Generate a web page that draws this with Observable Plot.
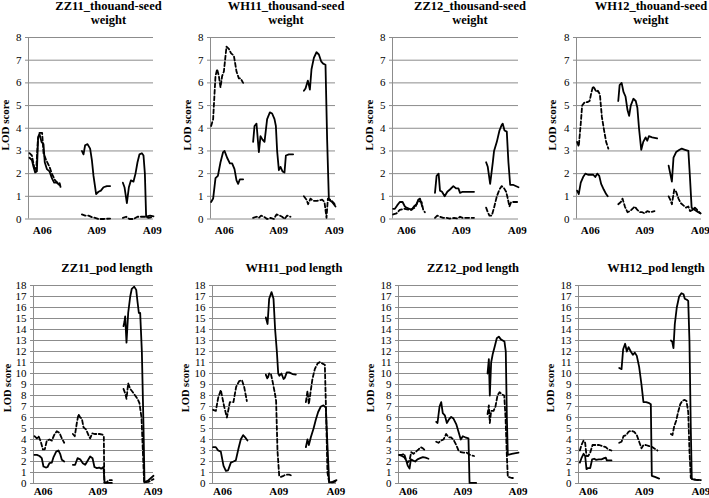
<!DOCTYPE html>
<html><head><meta charset="utf-8">
<script src="https://cdn.jsdelivr.net/npm/d3@7"></script>
<script src="https://cdn.jsdelivr.net/npm/@observablehq/plot@0.6"></script>
<style>
body{margin:0;background:#fff;}
#chart{position:relative;width:709px;height:498px;overflow:hidden;font-family:"Liberation Serif","Times New Roman",serif;background:#fff;}
.panel{position:absolute;}
.panel svg, .panel svg text{font-family:"Liberation Serif","Times New Roman",serif !important;}
.title{position:absolute;width:220px;text-align:center;font-weight:bold;font-size:12.5px;line-height:13.5px;white-space:nowrap;color:#000;}
.ylab{position:absolute;font-weight:bold;font-size:11px;white-space:nowrap;color:#000;transform:translate(-50%,-50%) rotate(-90deg);}
.panel svg g[aria-label^="x-axis"] text{font-weight:bold;}
.panel svg g[aria-label^="y-axis"] line,.panel svg g[aria-label^="y-axis"] path{stroke:#8c8c8c;}
</style></head><body><div id="chart"></div>
<script>
// ---------- labels ----------
const xTickLabels = ["A06", "A09", "A09"];
const topTitles = [["ZZ11_thouand-seed", "weight"], ["WH11_thousand-seed", "weight"], ["ZZ12_thousand-seed", "weight"], ["WH12_thouand-seed", "weight"]];
const bottomTitles = ["ZZ11_pod length", "WH11_pod length", "ZZ12_pod length", "WH12_pod length"];
const yLabel = "LOD score";

// ---------- data: [position, LOD] per linkage segment ----------
// ZZ11 thousand-seed weight
const zz11_tsw_solid = [
 [[0.8,2.7],[2.7,2.6],[4,2.3],[5.3,2.05],[6.7,2.1],[7.7,3.6],[8.8,3.75],[10.4,3.4],[12,3.3],[13,2.5],[14.7,2.2],[16.8,2.1],[18.7,1.8],[20.5,1.6],[22.7,1.6],[24.8,1.5]],
 [[42.7,3.0],[44,2.85],[45.3,3.25],[47.2,3.3],[49.3,3.1],[50.7,2.6],[52,1.9],[54.1,1.1],[56,1.2],[57.9,1.25],[60,1.4],[62.7,1.45],[65.3,1.45]],
 [[75.5,1.6],[76.8,1.4],[78.7,0.7],[80.3,1.4],[81.9,1.7],[84,1.65],[85.6,2.0],[87.2,2.5],[88.8,2.85],[90.7,2.9],[92,2.8],[93.1,2.0],[94.1,0.1],[97.3,0.15],[100,0.12]]
];
const zz11_tsw_dashed = [
 [[0.8,2.9],[2.7,2.8],[4.5,2.3],[6.1,2.1],[7.5,3.5],[8.8,3.8],[10.9,3.8],[12,2.9],[14.1,2.6],[16.8,2.3],[18.7,2.0],[21.3,1.7],[23.2,1.6],[24.8,1.6],[25.9,1.35]],
 [[42.7,0.2],[45.3,0.15],[48,0.15],[50.7,0.08],[53.3,0.05],[56,0.0],[60,0.0],[65.3,0.02]],
 [[75.5,0.05],[78.1,0.1],[80.8,0.0],[84,0.0],[87.2,0.1],[90.7,0.1],[93.3,0.1],[96,0.05],[100,0.1]]
];
// WH11 thousand-seed weight
const wh11_tsw_solid = [
 [[0.5,0.75],[2.1,0.9],[4,1.8],[5.9,1.9],[8,2.5],[10.1,2.95],[11.2,3.0],[13.3,2.7],[15.5,2.45],[17.3,2.45],[19.2,2.2],[20.8,1.7],[22.1,1.55],[23.5,1.75],[26.1,1.75]],
 [[34.1,3.4],[35.2,4.1],[36.8,4.2],[38.7,2.95],[40,3.65],[41.6,3.5],[43.2,3.4],[45.3,4.4],[47.5,4.7],[49.3,4.65],[51.2,4.4],[52.3,4.1],[53.3,3.0],[54.7,2.15],[56,2.3],[57.6,2.1],[59.2,2.05],[60.3,2.8],[62.7,2.85],[66.1,2.85]],
 [[74.7,5.65],[76,5.75],[77.9,6.1],[79.5,5.7],[80.8,6.6],[82.7,7.1],[84.8,7.35],[86.7,7.25],[88.5,6.95],[90.1,6.85],[92,6.8],[93.3,3.5],[94.7,0.85],[97.3,0.75],[100,0.55]]
];
const wh11_tsw_dashed = [
 [[0.5,4.1],[2.1,4.4],[4,6.3],[5.3,6.6],[6.7,6.3],[8,5.8],[9.3,6.3],[10.7,6.5],[12.8,7.6],[14.7,7.5],[16.5,7.3],[18.7,7.2],[20.8,6.5],[22.7,6.2],[24,6.2],[26.1,6.0]],
 [[34.1,0.05],[36.8,0.1],[38.7,0.05],[40.5,0.15],[42.7,0.1],[45.3,0.0],[48,0.05],[50.7,0.0],[52.8,0.2],[55.5,0.15],[57.3,0.1],[59.2,0.0],[61.3,0.15],[64,0.1]],
 [[74.7,1.0],[76.8,0.85],[78.1,0.65],[80,0.9],[82.1,0.8],[85.3,0.8],[89.3,0.85],[91.2,0.75],[92.8,0.05],[93.9,0.9],[96,0.85],[98.7,0.7],[100,0.6]]
];
// ZZ12 thousand-seed weight
const zz12_tsw_solid = [
 [[0.5,0.45],[1.9,0.45],[3.7,0.6],[5.8,0.75],[8,0.75],[9.8,0.55],[11.1,0.5],[13.3,0.45],[15.1,0.4],[17,0.55],[19.1,0.65],[20.4,0.85],[21.8,0.9],[23.6,0.55]],
 [[33.7,1.15],[35,1.9],[36.6,2.0],[37.7,1.25],[39.3,1.2],[41.4,1.0],[43.5,1.2],[45.6,1.3],[48.3,1.45],[50.4,1.35],[52.3,1.35],[53.6,1.15],[55.7,1.2],[58.9,1.2],[64.7,1.2]],
 [[74.3,2.5],[75.6,2.3],[77.5,1.55],[79.6,2.5],[80.6,3.0],[82.8,3.4],[84.9,3.9],[86.7,4.15],[87.5,4.2],[88.9,3.9],[90.7,3.85],[92,2.5],[93.4,1.5],[96,1.5],[100,1.4]]
];
const zz12_tsw_dashed = [
 [[0.5,0.2],[3.2,0.25],[5.8,0.4],[9.8,0.45],[13.8,0.4],[17.8,0.5],[20.4,0.8],[23.1,0.75],[24.4,0.4],[25.7,0.3]],
 [[33.7,0.05],[35.5,0.15],[37.7,0.1],[40.3,0.05],[43,0.05],[45.6,0.02],[48.8,0.05],[51.5,0.02],[53.6,0.1],[55.7,0.05],[58.9,0.05],[64.7,0.05]],
 [[74.3,0.5],[75.6,0.3],[76.9,0.15],[78.8,0.15],[80.6,0.5],[82.8,1.0],[84.9,1.3],[86.7,1.45],[88.6,1.35],[90.2,1.2],[91.5,0.9],[92.8,0.55],[94.2,0.75],[96.6,0.75],[100,0.75]]
];
// WH12 thousand-seed weight
const wh12_tsw_solid = [
 [[0.5,1.25],[1.8,1.1],[3.4,1.6],[5.3,1.85],[7.1,2.0],[9.2,1.95],[11.3,1.95],[13.4,1.95],[15,1.85],[16.6,2.0],[18.2,1.9],[19.7,1.55],[21.8,1.3],[23.7,1.1],[25,1.0]],
 [[33.4,5.2],[34.5,5.9],[36.1,6.0],[37.6,5.6],[39.2,5.4],[40.8,4.8],[42.1,4.55],[43.4,5.0],[45.5,5.3],[47.4,5.2],[48.7,4.9],[50,4.0],[51.8,3.05],[53.4,3.4],[55.3,3.6],[56.6,3.45],[57.9,3.65],[60.5,3.6],[64.5,3.55]],
 [[73.7,2.35],[75,2.0],[76.3,1.65],[77.6,2.7],[79.7,2.95],[82.4,3.05],[84.2,3.1],[86.8,3.05],[89.5,3.0],[90.8,1.8],[92.1,0.5],[94.7,0.4],[97.4,0.3],[99.2,0.25]]
];
const wh12_tsw_dashed = [
 [[0.5,3.4],[1.8,3.2],[3.4,4.2],[4.5,5.0],[6.6,5.15],[8.7,5.15],[10.5,5.2],[11.8,5.55],[13.2,5.85],[14.5,5.75],[15.8,5.6],[17.1,5.65],[18.7,5.5],[20.3,4.5],[22.4,3.8],[23.7,3.4],[25.5,3.1]],
 [[33.4,0.65],[35.5,0.75],[36.8,0.9],[38.7,0.55],[40.8,0.3],[42.9,0.35],[44.7,0.45],[46.6,0.55],[48.7,0.4],[50.8,0.3],[52.6,0.3],[54.5,0.25],[56.6,0.35],[59.2,0.3],[62.4,0.35]],
 [[73.7,1.0],[75,0.85],[76.3,0.65],[78.2,1.3],[79.7,1.2],[81.6,0.9],[83.4,0.7],[85.5,0.6],[87.6,0.5],[89.5,0.55],[90.8,0.35],[92.9,0.4],[94.7,0.5],[97.4,0.35],[99.2,0.25]]
];
// ZZ11 pod length
const zz11_pod_solid = [
 [[0.8,2.6],[2.8,2.6],[5,2.5],[6.9,2.3],[8.3,1.55],[10.3,1.45],[11.7,1.5],[13.3,1.85],[15.3,1.9],[16.7,2.4],[18.9,2.9],[20.8,3.0],[22.2,2.7],[23.6,2.15],[25.6,2.0]],
 [[32.8,1.7],[34.7,1.7],[36.7,2.3],[38.9,2.2],[41.1,1.85],[43.1,1.7],[45,2.05],[47.2,2.45],[49.2,2.3],[50.8,1.5],[52.8,1.4],[54.7,1.45],[56.4,1.35],[58.3,1.5],[59.3,0.05],[65.3,0.05]],
 [[75,14.3],[75.8,14.7],[76.4,15.2],[77.5,12.8],[78.9,15.5],[80.6,17.0],[81.9,17.7],[83.9,17.9],[85.6,17.6],[86.7,16.5],[87.8,15.5],[88.9,15.5],[90.3,12.0],[91.7,5.0],[92.5,0.1],[95.8,0.3],[100,0.7]]
];
const zz11_pod_dashed = [
 [[0.8,4.3],[2.8,4.1],[4.2,4.3],[6.1,3.8],[7.8,3.1],[9.4,3.1],[11.1,3.9],[13.3,4.0],[15.3,3.9],[17.2,4.4],[19.4,4.75],[21.7,4.6],[23.6,4.1],[25.6,3.7]],
 [[32.8,4.5],[34.4,4.3],[36.1,5.5],[37.5,6.3],[38.9,6.0],[40.3,5.9],[41.7,5.1],[43.9,4.9],[45.8,4.4],[47.2,4.1],[48.9,4.55],[50.8,4.5],[52.8,4.5],[55,4.5],[57.5,4.45],[58.6,4.3],[59,0.1],[61,0.1],[62.5,0.3],[65.3,0.3]],
 [[75,8.6],[76.4,8.2],[77.5,7.7],[78.9,9.1],[80.6,8.6],[82.8,8.3],[84.7,8.0],[86.7,7.7],[88.3,7.3],[90,6.0],[91.1,3.0],[92.2,0.1],[95.8,0.15],[100,0.4]]
];
// WH11 pod length
const wh11_pod_solid = [
 [[0.5,3.3],[2.7,3.3],[4.6,3.0],[6.7,2.9],[8.9,1.6],[10.8,1.15],[12.6,1.2],[14.8,1.9],[16.9,2.0],[18.8,2.1],[21,3.2],[22.8,4.0],[24.7,4.4],[26.3,4.2],[28.2,3.9]],
 [[43,15.1],[44.4,14.5],[45.7,16.8],[47.6,17.4],[49.2,16.8],[50.5,14.0],[51.9,12.0],[53,10.0],[54,9.8],[55.6,10.0],[57.3,9.5],[58.3,9.6],[59.9,10.1],[61.8,10.1],[64.5,9.95],[67.2,9.9]],
 [[75.3,3.3],[76.6,4.0],[77.7,3.5],[79.3,4.2],[81.5,5.0],[83.3,5.8],[85.2,6.5],[87.4,7.0],[89.5,7.1],[91.4,6.9],[92.7,3.5],[94.1,0.1],[96.8,0.15],[100,0.3]]
];
const wh11_pod_dashed = [
 [[0.5,6.7],[2.7,6.6],[4.6,7.8],[6.7,8.5],[9.4,7.0],[11.6,6.0],[14,7.4],[16.9,7.4],[19.1,8.8],[21.5,9.3],[23.7,9.4],[25.5,8.8],[27.7,7.5]],
 [[43,9.9],[44.4,9.5],[45.7,10.0],[47,10.0],[48.4,9.3],[50.3,8.2],[51.3,7.5],[52.4,3.0],[53.8,0.7],[55.1,0.6],[57.3,0.7],[59.1,0.8],[61.8,0.8],[64.5,0.7]],
 [[75.3,7.4],[76.6,8.4],[77.7,7.2],[79.3,8.5],[80.6,9.5],[82.5,10.4],[84.7,10.9],[86.8,11.05],[88.7,10.9],[90.6,10.8],[91.7,6.0],[92.7,1.0],[94.1,0.1],[96.8,0.1],[100,0.2]]
];
// ZZ12 pod length
const zz12_pod_solid = [
 [[0.6,2.6],[2.8,2.5],[4.7,2.4],[6.4,2.1],[7.8,1.6],[9.2,1.35],[10.3,2.2],[11.9,2.1],[13.9,2.0],[15.8,2.2],[18.1,2.3],[20.3,2.4],[22.5,2.35],[25,2.25]],
 [[31.4,5.6],[32.5,5.5],[34.2,7.0],[35.6,7.4],[36.9,6.4],[38.6,6.2],[40.3,5.5],[41.9,5.8],[43.9,6.05],[45.8,5.9],[48.1,5.4],[50,4.7],[51.9,4.0],[53.6,4.3],[55.6,4.2],[58.3,4.1],[59.2,0.05],[64.7,0.05]],
 [[74.2,10.0],[75.3,11.3],[76.1,8.0],[77.2,11.0],[78.6,11.8],[80.3,12.5],[81.9,13.2],[83.6,13.35],[85.3,13.1],[86.9,13.0],[88.3,12.9],[89.4,12.0],[90.3,6.0],[91.1,2.6],[94.4,2.7],[100,2.8]]
];
const zz12_pod_dashed = [
 [[0.6,2.6],[2.8,2.6],[4.7,2.7],[5.8,2.3],[7.5,1.9],[9.2,2.1],[10.6,2.85],[12.5,2.7],[14.7,2.9],[16.7,3.1],[18.6,3.3],[20.3,3.2],[22.2,3.0]],
 [[31.4,3.8],[33.3,3.7],[35.3,3.9],[37.5,4.0],[39.7,4.5],[41.7,4.2],[43.6,4.2],[45.8,4.0],[48.1,3.5],[50,3.0],[51.9,2.85],[54.2,2.8],[56.9,2.8],[59.7,2.6],[63,2.5]],
 [[74.2,6.3],[75.3,7.1],[76.1,5.5],[77.2,6.6],[79.2,6.6],[80.8,7.0],[82.5,8.0],[84.2,8.3],[86.1,8.1],[88.1,8.0],[89.2,6.0],[90.3,2.5],[91.1,0.6],[94.4,0.5],[95.8,0.5]]
];
// WH12 pod length
const wh12_pod_solid = [
 [[1.1,1.9],[2.4,2.3],[4.1,2.7],[5.4,2.5],[6.5,1.3],[7.9,1.4],[9.5,1.4],[11.1,2.2],[12.7,2.25],[14.4,2.15],[16.5,2.2],[18.7,2.2],[20.9,2.3],[22.2,2.35],[23,2.1],[26.8,2.1]],
 [[33.1,10.5],[35,10.4],[36.3,12.2],[37.9,12.7],[39.3,12.0],[40.7,12.4],[42.5,12.0],[44.2,11.7],[45.8,11.9],[47.4,11.6],[49.3,10.6],[51.2,9.0],[52.8,7.4],[55,7.4],[57.5,7.3],[58.8,7.2],[59.6,0.7],[62.1,0.6],[65.6,0.45]],
 [[75.1,13.0],[76.2,12.9],[77.2,12.3],[78.3,14.5],[79.9,16.0],[81.8,17.0],[83.7,17.3],[85.4,17.2],[86.4,16.8],[88.1,16.7],[89.2,16.6],[90.2,13.0],[91.3,5.0],[92.1,0.4],[95.4,0.35],[99.5,0.3]]
];
const wh12_pod_dashed = [
 [[1.1,3.0],[2.4,3.5],[4.1,3.9],[5.4,3.7],[6.5,2.5],[7.9,2.5],[9.5,2.8],[11.4,3.5],[14.1,3.5],[16.8,3.5],[19.5,3.4],[22.2,3.3],[24.1,3.1],[26.8,3.0]],
 [[33.1,3.7],[35,3.8],[36.6,4.3],[38.8,4.4],[40.7,4.7],[42.5,4.8],[45.3,4.7],[47.4,4.4],[49.3,3.8],[51.2,3.2],[52.8,3.5],[54.7,3.5],[57.5,3.4],[60.2,3.3],[64.2,3.0]],
 [[75.1,4.5],[76.4,4.4],[77.8,5.2],[79.4,5.7],[81,6.5],[82.7,7.2],[84.6,7.55],[86.4,7.6],[87.8,7.5],[89.2,6.5],[90.2,3.0],[91.3,0.5],[94,0.35],[98.1,0.3]]
];

// ---------- layout ----------
const rows = [
  {top: 36.5, zero: 218, max: 8, tickPos: [11, 54.5, 99], tickPad: 7, labY: 125, labSize: 11,
   titleTop: 0, titles: topTitles.map(t => t.join("<br>")), titleX: [108.5, 286, 470, 651],
   axes: [[28,153],[210,335],[392,518],[576,701]], labX: [5, 187, 369, 552],
   series: [[zz11_tsw_solid, zz11_tsw_dashed],[wh11_tsw_solid, wh11_tsw_dashed],[zz12_tsw_solid, zz12_tsw_dashed],[wh12_tsw_solid, wh12_tsw_dashed]]},
  {top: 285, zero: 483, max: 18, tickPos: [8, 53.5, 99.5], tickPad: 4, labY: 388, labSize: 10.5,
   titleTop: 262, titles: bottomTitles, titleX: [107, 294, 473, 656],
   axes: [[33,153],[212,336],[398,518],[578,701]], labX: [7, 185, 370, 550],
   series: [[zz11_pod_solid, zz11_pod_dashed],[wh11_pod_solid, wh11_pod_dashed],[zz12_pod_solid, zz12_pod_dashed],[wh12_pod_solid, wh12_pod_dashed]]}
];

const chart = document.getElementById("chart");
const toRows = segs => segs.flatMap((s, i) => s.map(([x, y]) => ({x, y, seg: i})));

rows.forEach(row => {
  row.axes.forEach(([ax, rx], k) => {
    const ml = 30, mr = 4, mt = 6, mb = 24;
    const [solid, dashed] = row.series[k];
    const yt = d3.range(0, row.max + 1);
    const svg = Plot.plot({
      width: ml + (rx - ax) + mr, height: mt + (row.zero - row.top) + mb,
      marginLeft: ml, marginRight: mr, marginTop: mt, marginBottom: mb,
      style: {fontFamily: "'Liberation Serif','Times New Roman',serif", fontSize: "11px", background: "transparent", color: "#000", overflow: "visible"},
      x: {domain: [0, 100], ticks: row.tickPos, tickFormat: d => xTickLabels[row.tickPos.indexOf(d)], tickSize: 0, tickPadding: row.tickPad, label: null},
      y: {domain: [0, row.max], ticks: yt, tickFormat: d => String(d), tickSize: 3, tickPadding: 4, label: null},
      marks: [
        Plot.ruleY(yt, {stroke: "#8c8c8c", strokeWidth: 1}),
        Plot.ruleX([0], {stroke: "#8c8c8c", strokeWidth: 1}),
        Plot.line(toRows(solid), {x: "x", y: "y", z: "seg", stroke: "#000", strokeWidth: 1.8}),
        Plot.line(toRows(dashed), {x: "x", y: "y", z: "seg", stroke: "#000", strokeWidth: 1.8, strokeDasharray: "4,2.5"})
      ]
    });
    const div = document.createElement("div");
    div.className = "panel";
    div.style.left = (ax - ml) + "px";
    div.style.top = (row.top - mt) + "px";
    div.appendChild(svg);
    chart.appendChild(div);

    const t = document.createElement("div");
    t.className = "title";
    t.innerHTML = row.titles[k];
    t.style.left = (row.titleX[k] - 110) + "px";
    t.style.top = row.titleTop + "px";
    chart.appendChild(t);

    const l = document.createElement("div");
    l.className = "ylab";
    l.textContent = yLabel;
    l.style.fontSize = row.labSize + "px";
    l.style.left = row.labX[k] + "px";
    l.style.top = row.labY + "px";
    chart.appendChild(l);
  });
});
</script></body></html>
